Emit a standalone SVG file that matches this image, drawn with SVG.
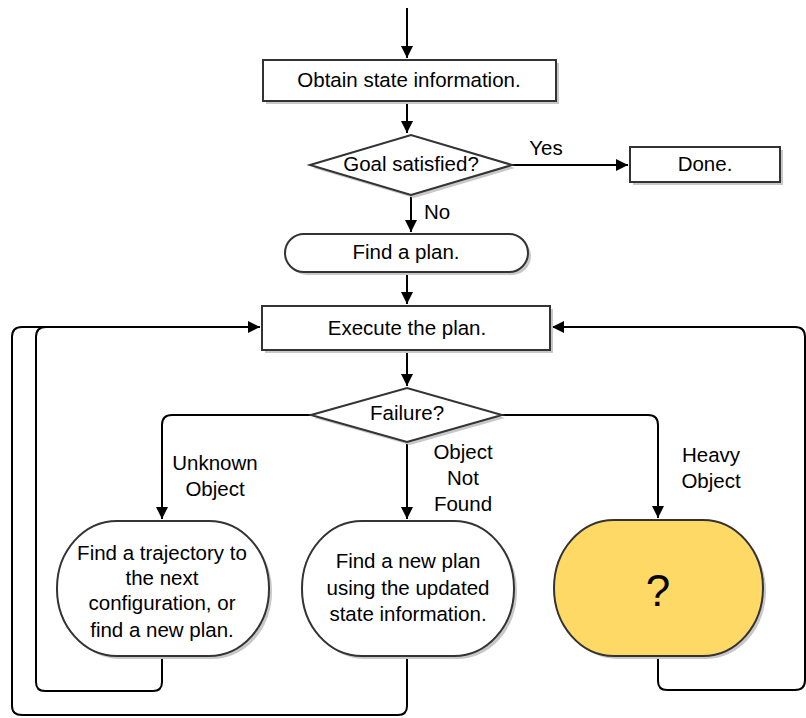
<svg xmlns="http://www.w3.org/2000/svg" width="806" height="718" viewBox="0 0 806 718">
<style>
.node{fill:#fff;stroke:#333;stroke-width:2}
.sh{fill:#c8c8c8;stroke:none}
.t{font-family:"Liberation Sans",Arial,sans-serif;font-size:20.5px;fill:#000;text-anchor:middle}
.lbl{font-family:"Liberation Sans",Arial,sans-serif;font-size:20.5px;fill:#000;text-anchor:middle}
.c{fill:none;stroke:#000;stroke-width:2}
</style>
<defs>
<marker id="ah" markerUnits="userSpaceOnUse" markerWidth="14" markerHeight="14" viewBox="0 0 14 14" refX="13" refY="7" orient="auto">
<path d="M1,1 L13,7 L1,13 z" fill="#000"/>
</marker>
</defs>
<rect width="806" height="718" fill="#fff"/>
<g id="connectors">
<path class="c" d="M407,8 V58" marker-end="url(#ah)"/>
<path class="c" d="M407,101 V133" marker-end="url(#ah)"/>
<path class="c" d="M512,165 H628" marker-end="url(#ah)"/>
<path class="c" d="M411,195 V232" marker-end="url(#ah)"/>
<path class="c" d="M407,272 V304" marker-end="url(#ah)"/>
<path class="c" d="M407,350 V386" marker-end="url(#ah)"/>
<path class="c" d="M311,415 H172 Q162,415 162,425 V519" marker-end="url(#ah)"/>
<path class="c" d="M407,442 V519" marker-end="url(#ah)"/>
<path class="c" d="M502,415 H648 Q658,415 658,425 V518" marker-end="url(#ah)"/>
<path class="c" d="M162,658 V682 Q162,691 153,691 H45 Q36,691 36,682 V337 Q36,327 46,327 H260" marker-end="url(#ah)"/>
<path class="c" d="M407,658 V706 Q407,715 398,715 H22 Q12,715 12,706 V337 Q12,327 22,327 H260"/>
<path class="c" d="M658,656 V681 Q658,690 667,690 H795 Q805,690 805,680 V337 Q805,327 795,327 H552" marker-end="url(#ah)"/>
<text class="lbl" x="546" y="155">Yes</text>
<text class="lbl" x="437" y="219">No</text>
<text class="lbl" x="215" y="470">Unknown</text>
<text class="lbl" x="215" y="496">Object</text>
<text class="lbl" x="463" y="459">Object</text>
<text class="lbl" x="463" y="485">Not</text>
<text class="lbl" x="463" y="511">Found</text>
<text class="lbl" x="711" y="462">Heavy</text>
<text class="lbl" x="711" y="488">Object</text>
</g>
<g id="obtain">
<rect class="sh" x="266" y="63" width="293" height="41"/>
<rect class="node" x="263" y="60" width="293" height="41"/>
<text class="t" x="409" y="87">Obtain state information.</text>
</g>
<g id="goal">
<polygon class="sh" points="313,168 414,138 515,168 414,198"/>
<polygon class="node" points="310,165 411,135 512,165 411,195"/>
<text class="t" x="411" y="171">Goal satisfied?</text>
</g>
<g id="done">
<rect class="sh" x="633" y="150" width="150" height="35"/>
<rect class="node" x="630" y="147" width="150" height="35"/>
<text class="t" x="705" y="171">Done.</text>
</g>
<g id="findplan">
<rect class="sh" x="288" y="237" width="243" height="38" rx="19" ry="19"/>
<rect class="node" x="285" y="234" width="243" height="38" rx="19" ry="19"/>
<text class="t" x="406" y="259">Find a plan.</text>
</g>
<g id="execute">
<rect class="sh" x="265" y="309" width="288" height="44"/>
<rect class="node" x="262" y="306" width="288" height="44"/>
<text class="t" x="407" y="335">Execute the plan.</text>
</g>
<g id="failure">
<polygon class="sh" points="314,418 410,391 505,418 410,445"/>
<polygon class="node" points="311,415 407,388 502,415 407,442"/>
<text class="t" x="407" y="420">Failure?</text>
</g>
<g id="trajectory">
<rect class="sh" x="60" y="524" width="212" height="135" rx="60" ry="67"/>
<rect class="node" x="57" y="521" width="212" height="135" rx="60" ry="67"/>
<text class="t" x="162" y="560">Find a trajectory to</text>
<text class="t" x="162" y="585">the next</text>
<text class="t" x="162" y="610">configuration, or</text>
<text class="t" x="162" y="637">find a new plan.</text>
</g>
<g id="newplan">
<rect class="sh" x="305" y="524" width="212" height="135" rx="60" ry="67"/>
<rect class="node" x="302" y="521" width="212" height="135" rx="60" ry="67"/>
<text class="t" x="408" y="568">Find a new plan</text>
<text class="t" x="408" y="595">using the updated</text>
<text class="t" x="408" y="621">state information.</text>
</g>
<g id="heavy">
<rect class="sh" x="557" y="523" width="209" height="136" rx="60" ry="68"/>
<rect class="node" x="554" y="520" width="209" height="136" rx="60" ry="68" style="fill:#ffd966"/>
<text class="t" x="658" y="606" style="font-size:44px">?</text>
</g>
</svg>
